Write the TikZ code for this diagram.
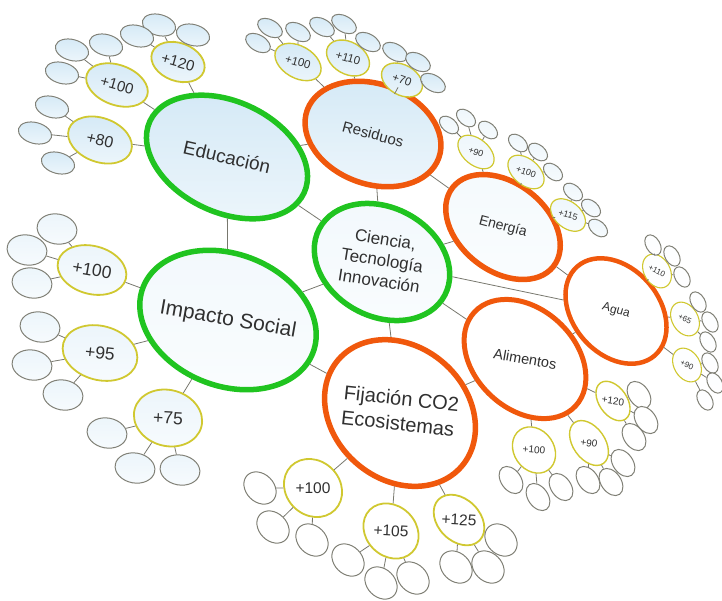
\documentclass[tikz,border=0pt]{standalone}
\usepackage{fontspec}
\setmainfont{Liberation Sans}
\usepackage{tikz}
\usetikzlibrary{shapes.geometric}

\definecolor{grn}{RGB}{32,196,32}
\definecolor{org}{RGB}{240,88,12}
\definecolor{olive}{RGB}{208,200,48}
\definecolor{leafgray}{RGB}{128,128,118}
\definecolor{linkgray}{RGB}{120,120,110}
\definecolor{ink}{RGB}{48,48,48}
\definecolor{lb}{RGB}{212,233,246}

\tikzset{
  hub/.style={ellipse, line width=5.5pt, inner sep=-20pt, text=ink},
  sat/.style={ellipse, draw=olive, line width=1.8pt, inner sep=-4pt, text=ink},
  leaf/.style={ellipse, draw=leafgray, line width=1pt, inner sep=0pt},
  link/.style={draw=linkgray, line width=0.8pt},
  sz/.style 2 args={minimum width=#1, minimum height=#2},
  tint/.style={top color=lb!#1!white, bottom color=lb!#1!white!45!white},
}

\begin{document}
\begin{tikzpicture}[x=1pt, y=-1pt]
\useasboundingbox (0,0) rectangle (722,600);

% central ring
\node[hub, draw=grn, tint=30, sz={142}{109}, rotate=-28, font=\fontsize{17}{21}\selectfont] (cti) at (382,262)
  {\rotatebox{19}{\begin{tabular}{@{}c@{}}Ciencia,\\Tecnología\\Innovación\end{tabular}}};
\node[hub, draw=grn, tint=100, sz={170}{111}, rotate=-25, font=\fontsize{19}{22}\selectfont] (edu) at (227,157) {\rotatebox{12}{Educación}};
\node[hub, draw=grn, tint=30, sz={182}{132}, rotate=-21, font=\fontsize{21}{24}\selectfont] (imp) at (228,320) {\rotatebox{11}{Impacto Social}};
\node[hub, draw=org, tint=100, sz={140}{100}, rotate=-20, font=\fontsize{15}{18}\selectfont] (res) at (373,134) {\rotatebox{5}{Residuos}};
\node[hub, draw=org, tint=25, sz={128}{88}, rotate=-38, font=\fontsize{14}{17}\selectfont] (ene) at (503,227) {\rotatebox{23}{Energía}};
\node[hub, draw=org, tint=0, line width=4.5pt, sz={118}{86}, rotate=-49, font=\fontsize{12}{14}\selectfont] (agu) at (616,311) {\rotatebox{33}{Agua}};
\node[hub, draw=org, tint=0, line width=5pt, sz={138}{100}, rotate=-43, font=\fontsize{14.5}{17}\selectfont] (ali) at (525,359) {\rotatebox{33}{Alimentos}};
\node[hub, draw=org, tint=0, sz={163}{133}, rotate=-41, font=\fontsize{20}{25}\selectfont] (fij) at (400,413)
  {\rotatebox{35}{\begin{tabular}{@{}l@{}}Fijación CO2\\Ecosistemas\end{tabular}}};

\draw[link] (edu) -- (res) (edu) -- (imp) (edu) -- (cti) (res) -- (cti) (res) -- (ene)
  (ene) -- (cti) (cti) -- (agu) (ene) -- (agu) (cti) -- (ali) (ali) -- (agu)
  (cti) -- (fij) (imp) -- (fij) (imp) -- (cti) (ali) -- (fij);

% Educación
\begin{scope}[leaf/.append style={sz={34}{21}, rotate=-15, tint=100},
              sat/.append style={rotate=-20, tint=100, font=\fontsize{15}{15}\selectfont}]
  \node[sat, sz={66}{44}, font=\fontsize{16}{16}\selectfont] (edu80) at (100,140) {\rotatebox{7}{+80}};
  \node[sat, sz={64}{40}] (edu100) at (117,85) {\rotatebox{4}{+100}};
  \node[sat, sz={55}{38}] (edu120) at (178,62) {\rotatebox{4}{+120}};
  \foreach \s/\k/\x/\y in {80/a/52/107, 80/b/35/133, 80/c/58/163,
                           100/a/72/50, 100/b/106/45, 100/c/62/73,
                           120/a/159/25, 120/b/137/36, 120/c/193/35}
  { \node[leaf] (edu\s\k) at (\x,\y) {};
    \draw[link] (edu\s) -- (edu\s\k); }
  \draw[link] (edu) -- (edu80) (edu) -- (edu100) (edu) -- (edu120);
\end{scope}

% Impacto Social
\begin{scope}[leaf/.append style={sz={40}{30}, rotate=-10, tint=45},
              sat/.append style={rotate=-15, tint=45, font=\fontsize{17.5}{17.5}\selectfont}]
  \node[sat, sz={70}{48}] (imp100) at (92,270) {\rotatebox{5}{+100}};
  \node[sat, sz={76}{54}] (imp95) at (100,353) {\rotatebox{9}{+95}};
  \node[sat, sz={69}{56}] (imp75) at (168,418) {\rotatebox{12}{+75}};
  \foreach \s/\k/\x/\y in {100/a/57/229, 100/b/27/250, 100/c/32/283,
                           95/a/40/327, 95/b/32/365, 95/c/63/395,
                           75/a/107/433, 75/b/135/468, 75/c/180/470}
  { \node[leaf] (imp\s\k) at (\x,\y) {};
    \draw[link] (imp\s) -- (imp\s\k); }
  \draw[link] (imp) -- (imp100) (imp) -- (imp95) (imp) -- (imp75);
\end{scope}

% Residuos
\begin{scope}[leaf/.append style={sz={27}{16}, rotate=-30, tint=100},
              sat/.append style={rotate=-30, tint=100, line width=1.4pt, font=\fontsize{11.5}{11.5}\selectfont}]
  \node[sat, sz={50}{32}] (res100) at (298,62) {\rotatebox{14}{+100}};
  \node[sat, sz={46}{32}] (res110) at (348,58) {\rotatebox{14}{+110}};
  \node[sat, sz={44}{30}] (res70) at (402,80) {\rotatebox{10}{+70}};
  \foreach \s/\k/\x/\y in {100/a/270/28, 100/b/258/43, 100/c/298/32,
                           110/a/322/27, 110/b/344/24, 110/c/368/42,
                           70/a/395/52, 70/b/418/62, 70/c/433/83}
  { \node[leaf] (res\s\k) at (\x,\y) {};
    \draw[link] (res\s) -- (res\s\k); }
  \draw[link] (res) -- (res100) (res) -- (res110) (res) -- (res70);
\end{scope}

% Energía
\begin{scope}[leaf/.append style={sz={22}{14}, rotate=-40, tint=40},
              sat/.append style={rotate=-40, tint=40, line width=1.2pt, font=\fontsize{9}{9}\selectfont}]
  \node[sat, sz={42}{26}] (ene90) at (476,152) {\rotatebox{20}{+90}};
  \node[sat, sz={42}{26}] (ene100) at (526,172) {\rotatebox{20}{+100}};
  \node[sat, sz={40}{26}] (ene115) at (568,215) {\rotatebox{25}{+115}};
  \foreach \s/\k/\x/\y in {90/a/449/125, 90/b/466/118, 90/c/488/130,
                           100/a/518/143, 100/b/538/152, 100/c/553/172,
                           115/a/573/192, 115/b/591/208, 115/c/598/228}
  { \node[leaf] (ene\s\k) at (\x,\y) {};
    \draw[link] (ene\s) -- (ene\s\k); }
  \draw[link] (ene) -- (ene90) (ene) -- (ene100) (ene) -- (ene115);
\end{scope}

% Agua
\begin{scope}[leaf/.append style={sz={22}{14}, rotate=-60, tint=5},
              sat/.append style={rotate=-60, tint=5, line width=1.1pt, font=\fontsize{8}{8}\selectfont}]
  \node[sat, sz={36}{26}] (agu110) at (657,271) {\rotatebox{35}{+110}};
  \node[sat, sz={36}{26}] (agu65) at (685,319) {\rotatebox{35}{+65}};
  \node[sat, sz={36}{26}] (agu90) at (687,365) {\rotatebox{35}{+90}};
  \foreach \s/\k/\x/\y in {110/a/653/245, 110/b/672/256, 110/c/682/277,
                           65/a/698/302, 65/b/710/322, 65/c/708/342,
                           90/a/710/363, 90/b/715/383, 90/c/705/400}
  { \node[leaf] (agu\s\k) at (\x,\y) {};
    \draw[link] (agu\s) -- (agu\s\k); }
  \draw[link] (agu) -- (agu110) (agu) -- (agu65) (agu) -- (agu90);
\end{scope}

% Alimentos
\begin{scope}[leaf/.append style={sz={30}{20}, rotate=-55, tint=0},
              sat/.append style={rotate=-55, tint=0, line width=1.4pt, font=\fontsize{10}{10}\selectfont}]
  \node[sat, sz={49}{40}] (ali100) at (534,450) {\rotatebox{50}{+100}};
  \node[sat, sz={50}{32}] (ali90) at (589,443) {\rotatebox{47}{+90}};
  \node[sat, sz={44}{28}] (ali120) at (613,401) {\rotatebox{47}{+120}};
  \foreach \s/\k/\x/\y in {100/a/511/480, 100/b/538/497, 100/c/561/487,
                           90/a/588/480, 90/b/611/482, 90/c/623/463,
                           120/a/639/395, 120/b/646/420, 120/c/634/437}
  { \node[leaf] (ali\s\k) at (\x,\y) {};
    \draw[link] (ali\s) -- (ali\s\k); }
  \draw[link] (ali) -- (ali100) (ali) -- (ali90) (ali) -- (ali120);
\end{scope}

% Fijación CO2
\begin{scope}[leaf/.append style={sz={36}{28}, rotate=-45, tint=0},
              sat/.append style={rotate=-45, tint=0, font=\fontsize{15.5}{15.5}\selectfont}]
  \node[sat, sz={62}{54}] (fij100) at (313,488) {\rotatebox{45}{+100}};
  \node[sat, sz={60}{50}] (fij105) at (391,531) {\rotatebox{42}{+105}};
  \node[sat, sz={58}{42}] (fij125) at (459,520) {\rotatebox{42}{+125}};
  \foreach \s/\k/\x/\y in {100/a/260/488, 100/b/273/527, 100/c/312/540,
                           105/a/348/560, 105/b/381/583, 105/c/413/578,
                           125/a/456/567, 125/b/488/567, 125/c/501/540}
  { \node[leaf] (fij\s\k) at (\x,\y) {};
    \draw[link] (fij\s) -- (fij\s\k); }
  \draw[link] (fij) -- (fij100) (fij) -- (fij105) (fij) -- (fij125);
\end{scope}
\end{tikzpicture}
\end{document}
